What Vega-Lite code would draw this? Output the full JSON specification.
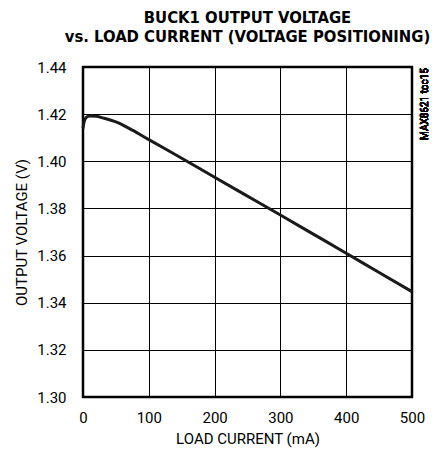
{
  "$schema": "https://vega.github.io/schema/vega-lite/v6.json",
  "autosize": {"type": "none"},
  "width": 329,
  "height": 330,
  "padding": {"left": 83, "top": 67, "right": 20, "bottom": 60},
  "background": "white",
  "title": {
    "text": ["BUCK1 OUTPUT VOLTAGE", "vs. LOAD CURRENT (VOLTAGE POSITIONING)"],
    "font": "DejaVu Sans Condensed",
    "fontWeight": "bold",
    "fontSize": 16.5,
    "lineHeight": 19,
    "color": "black",
    "anchor": "middle",
    "offset": 15
  },
  "config": {
    "view": {"stroke": "black", "strokeWidth": 2.5},
    "axis": {
      "labelFont": "Roboto",
      "titleFont": "Roboto",
      "labelFontSize": 15,
      "titleFontSize": 15,
      "titleFontWeight": "normal",
      "labelColor": "black",
      "titleColor": "black",
      "labelFlush": false,
      "ticks": false,
      "domain": false,
      "gridColor": "black",
      "gridOpacity": 1,
      "gridWidth": 1
    }
  },
  "data": {
    "values": [
      {"current": 0, "voltage": 1.4140},
      {"current": 2, "voltage": 1.4170},
      {"current": 5, "voltage": 1.4186},
      {"current": 10, "voltage": 1.4192},
      {"current": 20, "voltage": 1.4191},
      {"current": 30, "voltage": 1.4184},
      {"current": 50, "voltage": 1.4167},
      {"current": 75, "voltage": 1.4132},
      {"current": 100, "voltage": 1.4092},
      {"current": 150, "voltage": 1.4013},
      {"current": 200, "voltage": 1.3932},
      {"current": 250, "voltage": 1.3852},
      {"current": 300, "voltage": 1.3772},
      {"current": 350, "voltage": 1.3691},
      {"current": 400, "voltage": 1.3610},
      {"current": 450, "voltage": 1.3528},
      {"current": 500, "voltage": 1.3447}
    ]
  },
  "layer": [
    {
      "mark": {"type": "line", "color": "#1a1a1a", "strokeWidth": 3, "interpolate": "monotone"},
      "encoding": {
        "x": {
          "field": "current", "type": "quantitative",
          "scale": {"domain": [0, 500], "nice": false},
          "axis": {"values": [0, 100, 200, 300, 400, 500], "title": "LOAD CURRENT (mA)", "labelPadding": 13, "titlePadding": 6}
        },
        "y": {
          "field": "voltage", "type": "quantitative",
          "scale": {"domain": [1.30, 1.44], "nice": false, "zero": false},
          "axis": {"values": [1.30, 1.32, 1.34, 1.36, 1.38, 1.40, 1.42, 1.44], "format": ".2f", "title": "OUTPUT VOLTAGE (V)", "labelPadding": 17, "titlePadding": 7}
        }
      }
    },
    {
      "mark": {"type": "text", "text": "MAX8621 toc15", "font": "Roboto", "fontSize": 10, "angle": 270, "align": "right", "baseline": "top", "dx": -1, "dy": 8, "color": "black"},
      "encoding": {
        "x": {"datum": 500, "type": "quantitative"},
        "y": {"datum": 1.44, "type": "quantitative"}
      }
    }
  ]
}
